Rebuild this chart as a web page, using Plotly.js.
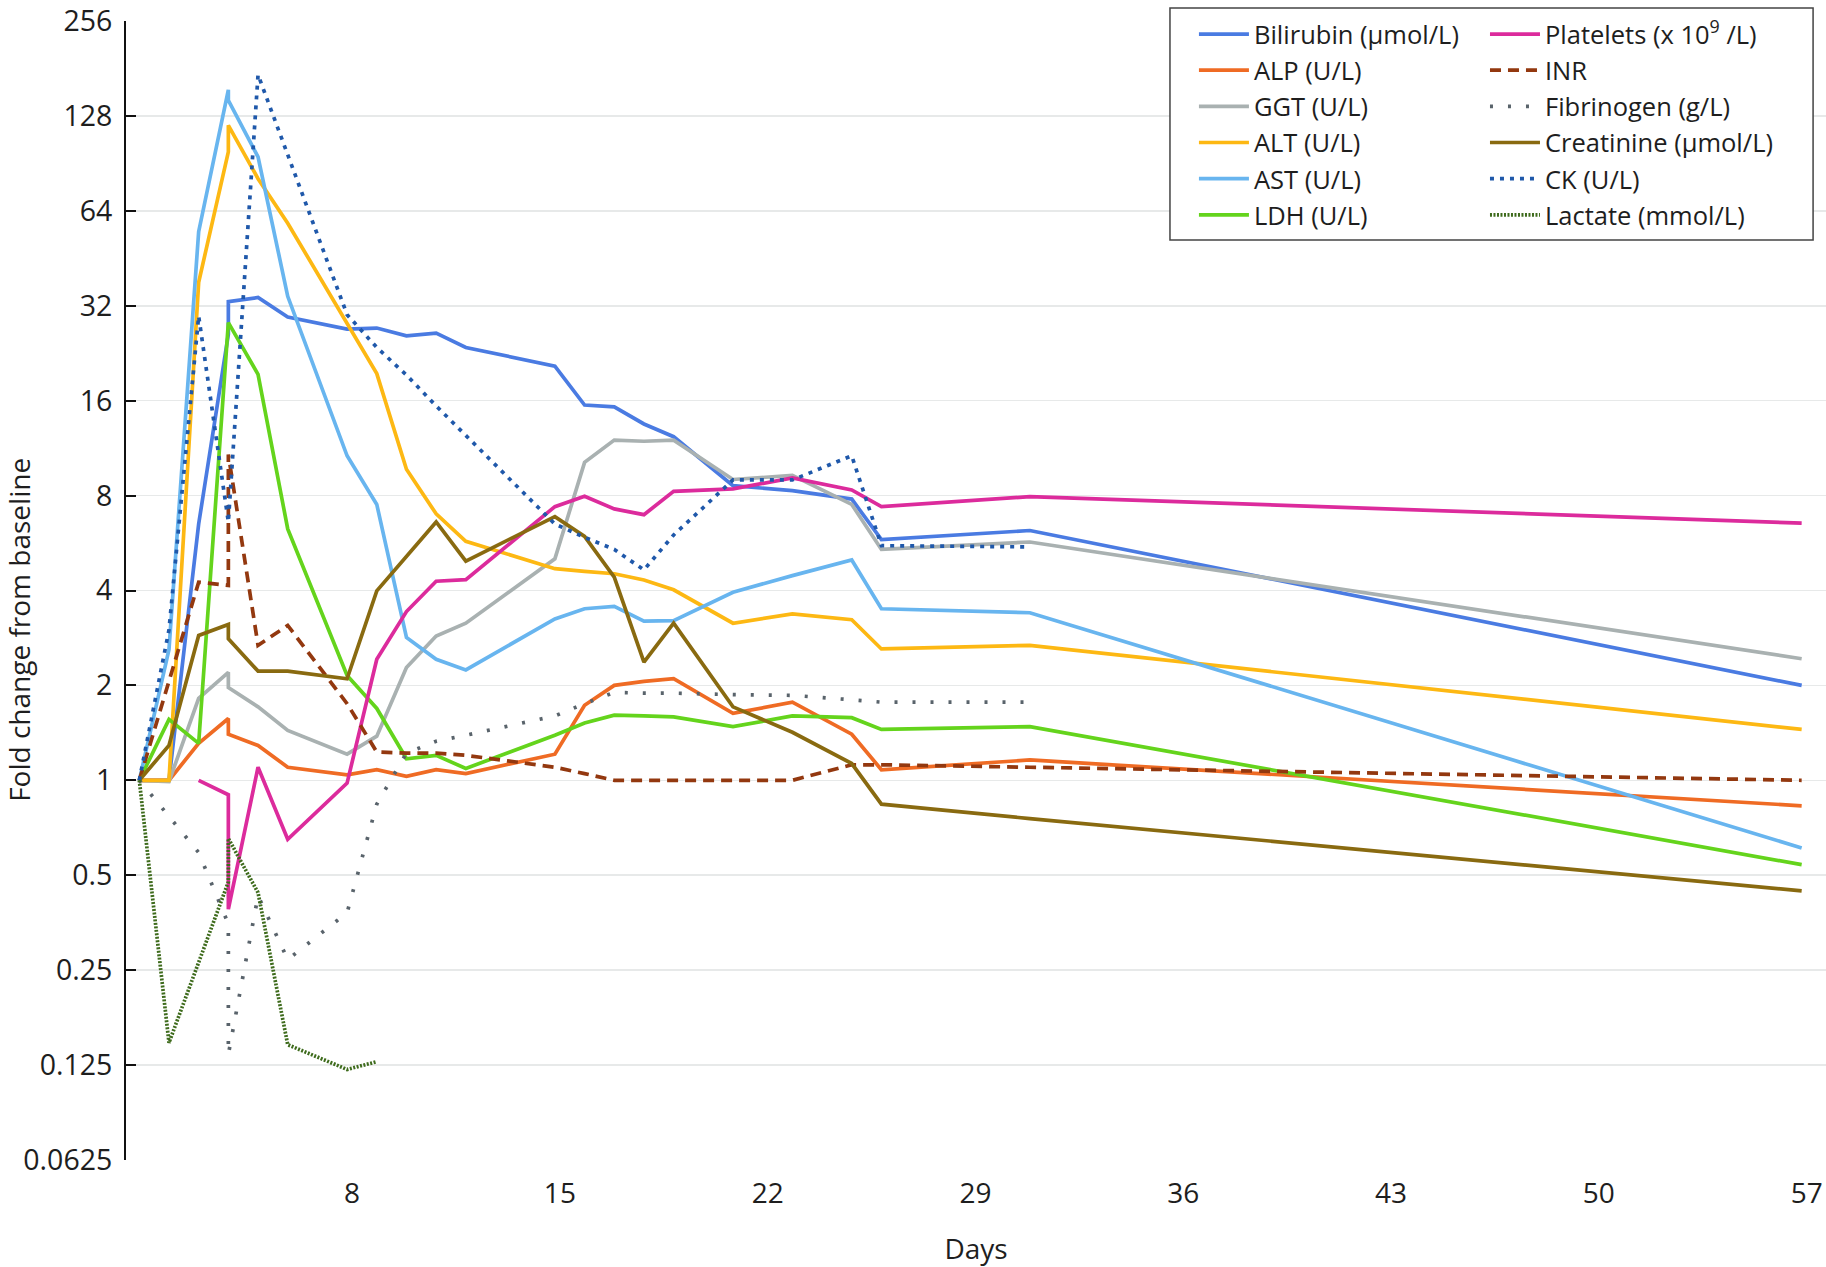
<!DOCTYPE html>
<html>
<head>
<meta charset="utf-8">
<script src="https://cdn.plot.ly/plotly-3.0.1.min.js"></script>
<style>
    html, body { margin: 0; padding: 0; background: white; }
</style>
</head>
<body>
<div id="chart"></div>
<script>
// days since baseline, day 4 was sampled twice
let days = [1, 2, 3, 4, 4, 5, 6, 8, 9, 10, 11, 12, 15, 16, 17, 18, 19, 21, 23, 25, 26, 31, 57]

// fold change from baseline, null where a series has no value
let bilirubin = [1, 1.0, 6.5, 26, 33, 34, 29.5, 27, 27.2, 25.7, 26.2, 23.6, 20.6, 15.5, 15.3, 13.5, 12.3, 8.6, 8.3, 7.8, 5.8, 6.2, 2.0]
let alp = [1, 1.0, 1.31, 1.57, 1.40, 1.29, 1.10, 1.04, 1.08, 1.03, 1.08, 1.05, 1.21, 1.73, 2.0, 2.06, 2.1, 1.63, 1.77, 1.4, 1.08, 1.16, 0.83]
let ggt = [1, 0.99, 1.82, 2.2, 1.97, 1.71, 1.44, 1.21, 1.38, 2.28, 2.87, 3.15, 5.04, 10.2, 12.0, 11.9, 12.0, 9.0, 9.27, 7.5, 5.4, 5.7, 2.43]
let alt = [1, 1.0, 38, 98.5, 119.6, 81, 58.5, 28, 19.5, 9.7, 7.0, 5.73, 4.69, 4.6, 4.52, 4.32, 4.02, 3.15, 3.37, 3.23, 2.61, 2.68, 1.45]
let ast = [1, 2.6, 55, 155, 143.5, 95, 34.3, 10.7, 7.5, 2.84, 2.42, 2.24, 3.25, 3.5, 3.56, 3.2, 3.21, 3.95, 4.46, 5.0, 3.5, 3.4, 0.61]
let ldh = [1, 1.56, 1.31, 28.3, 28.3, 19.4, 6.27, 2.15, 1.69, 1.17, 1.2, 1.09, 1.39, 1.52, 1.61, 1.6, 1.59, 1.48, 1.6, 1.58, 1.45, 1.48, 0.54]
let platelets = [null, null, 1.0, 0.9, 0.39, 1.10, 0.65, 0.98, 2.42, 3.43, 4.28, 4.33, 7.38, 7.96, 7.26, 6.96, 8.25, 8.4, 9.1, 8.34, 7.38, 7.94, 6.54]
let inr = [1, 2.07, 4.25, 4.15, 10.8, 2.68, 3.1, 1.75, 1.23, 1.22, 1.22, 1.2, 1.1, 1.05, 1.0, 1.0, 1.0, 1.0, 1.0, 1.12, 1.12, 1.1, 1.0]
let fibrinogen = [1, 0.77, 0.59, 0.35, 0.135, 0.43, 0.27, 0.38, 0.84, 1.22, 1.33, 1.39, 1.6, 1.75, 1.9, 1.89, 1.89, 1.87, 1.86, 1.8, 1.77, 1.77, null]
let creatinine = [1, 1.29, 2.88, 3.12, 2.81, 2.22, 2.22, 2.1, 3.99, 5.15, 6.6, 4.96, 6.86, 5.94, 4.41, 2.37, 3.15, 1.71, 1.42, 1.13, 0.84, 0.756, 0.446]
let ck = [1, 3.0, 29.7, 6.6, 6.6, 173, 97, 30, 23.6, 19.3, 15.4, 12.4, 6.5, 5.9, 5.4, 4.65, 6.0, 8.97, 8.97, 10.7, 5.55, 5.5, null]
let lactate = [1, 0.147, null, 0.476, 0.654, 0.44, 0.145, 0.121, 0.128, null, null, null, null, null, null, null, null, null, null, null, null, null, null]

let yTickVals = [0.0625, 0.125, 0.25, 0.5, 1, 2, 4, 8, 16, 32, 64, 128, 256]
let yTickText = ["0.0625", "0.125", "0.25", "0.5", "1", "2", "4", "8", "16", "32", "64", "128", "256"]
let xTickVals = [8, 15, 22, 29, 36, 43, 50, 57]

let fontFamily = "Open Sans, sans-serif"
let textColor = "#1e1e1e"

// drawing order follows the source legend, column one goes to "legend", column two to "legend2"
let series = [
    { name: "Bilirubin (μmol/L)", y: bilirubin, color: "#4a7be2", dash: "solid", legend: "legend" },
    { name: "ALP (U/L)", y: alp, color: "#ef6b24", dash: "solid", legend: "legend" },
    { name: "GGT (U/L)", y: ggt, color: "#a9b1b1", dash: "solid", legend: "legend" },
    { name: "ALT (U/L)", y: alt, color: "#fdb813", dash: "solid", legend: "legend" },
    { name: "AST (U/L)", y: ast, color: "#68b5ef", dash: "solid", legend: "legend" },
    { name: "LDH (U/L)", y: ldh, color: "#64d41c", dash: "solid", legend: "legend" },
    { name: "Platelets (x 10<sup>9</sup> /L)", y: platelets, color: "#dc2b9c", dash: "solid", legend: "legend2" },
    { name: "INR", y: inr, color: "#93380f", dash: "11px,7px", legend: "legend2" },
    { name: "Fibrinogen (g/L)", y: fibrinogen, color: "#59636b", dash: "3px,15px", legend: "legend2" },
    { name: "Creatinine (μmol/L)", y: creatinine, color: "#896a10", dash: "solid", legend: "legend2" },
    { name: "CK (U/L)", y: ck, color: "#1f58aa", dash: "4px,6px", legend: "legend2" },
    { name: "Lactate (mmol/L)", y: lactate, color: "#3e6b1c", dash: "2px,1.5px", legend: "legend2" }
]

let traces = series.map(s => ({
    x: days,
    y: s.y,
    type: "scatter",
    mode: "lines",
    name: s.name,
    legend: s.legend,
    connectgaps: true,
    line: { color: s.color, width: 3.7, dash: s.dash },
    hoverinfo: "skip"
}))

function legendColumn(x) {
    return {
        orientation: "v",
        x: x,
        xanchor: "left",
        y: 1.0088,
        yanchor: "top",
        itemwidth: 50,
        font: { family: fontFamily, size: 25.5, color: textColor },
        bgcolor: "rgba(0,0,0,0)",
        borderwidth: 0
    }
}

let layout = {
    width: 1826,
    height: 1267,
    margin: { l: 126, r: 0, t: 21, b: 107 },
    paper_bgcolor: "white",
    plot_bgcolor: "white",
    font: { family: fontFamily, size: 28, color: textColor },
    showlegend: true,
    legend: legendColumn(0.6282),
    legend2: legendColumn(0.7994),
    xaxis: {
        range: [0.552, 57.82],
        tickvals: xTickVals,
        ticktext: xTickVals.map(String),
        showgrid: false,
        zeroline: false,
        showline: false,
        ticks: "outside",
        ticklen: 8,
        tickcolor: "rgba(0,0,0,0)",
        ticklabelshift: 5,
        tickfont: { size: 28 },
        title: { text: "Days", font: { size: 28 }, standoff: 31 }
    },
    yaxis: {
        type: "log",
        range: [Math.log10(0.0625) - 0.0004, Math.log10(256) + 0.0004],
        tickvals: yTickVals,
        ticktext: yTickText,
        ticklabeloverflow: "allow",
        showgrid: true,
        gridcolor: "#e7e9e9",
        gridwidth: 1.5,
        zeroline: false,
        showline: true,
        linecolor: "#111111",
        linewidth: 2,
        ticks: "inside",
        ticklen: 10,
        tickwidth: 2,
        tickcolor: "#111111",
        ticklabelstandoff: 6,
        tickfont: { size: 28.5 }
    },
    // white box with a border behind the two legend columns
    shapes: [{
        type: "rect",
        xref: "paper",
        yref: "paper",
        x0: 0.6141,
        x1: 0.9924,
        y0: 0.8077,
        y1: 1.0114,
        layer: "above",
        fillcolor: "white",
        line: { color: "#444444", width: 1.5 }
    }],
    annotations: [{
        text: "Fold change from baseline",
        xref: "paper",
        yref: "paper",
        x: -0.0629,
        y: 0.4655,
        xanchor: "center",
        yanchor: "middle",
        textangle: -90,
        showarrow: false,
        font: { size: 28, color: textColor }
    }]
}

let config = {
    displayModeBar: false,
    staticPlot: true
}

Plotly.newPlot(document.getElementById("chart"), traces, layout, config)
</script>
</body>
</html>
